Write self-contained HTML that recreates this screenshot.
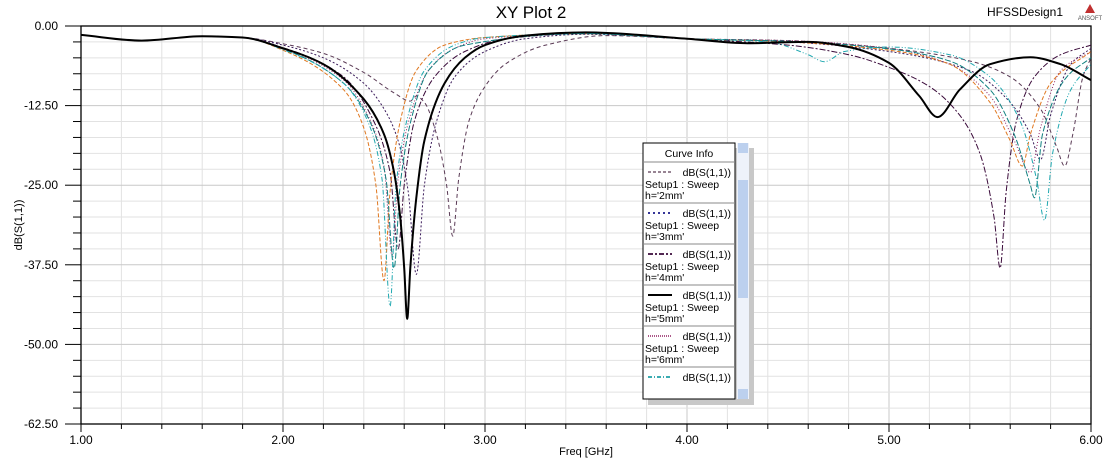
<!DOCTYPE html>
<html><head><meta charset="utf-8"><style>
body{margin:0;background:#fff;width:1113px;height:459px;overflow:hidden;font-family:"Liberation Sans",sans-serif}
svg{display:block}
</style></head><body>
<svg id="chart" width="1113" height="459" xmlns="http://www.w3.org/2000/svg" font-family="Liberation Sans, sans-serif">
<text x="531" y="18" font-size="17" text-anchor="middle">XY Plot 2</text>
<text x="1025" y="16" font-size="12" text-anchor="middle">HFSSDesign1</text>
<g><polygon points="1090,4 1085,13 1095,13" fill="#c03030"/><text x="1090" y="20" font-size="6" text-anchor="middle" fill="#555">ANSOFT</text></g>
<g id="grid"></g><g id="axes"></g><g id="series"></g>
<text x="586" y="455" font-size="11" text-anchor="middle">Freq [GHz]</text>
<text transform="translate(22,225) rotate(-90)" font-size="11" text-anchor="middle">dB(S(1,1))</text>
<g id="legend"></g>
</svg>
<script>
const xTicks=[1,2,3,4,5,6];
const xTickLabels=["1.00","2.00","3.00","4.00","5.00","6.00"];
const yTicks=[0,-12.5,-25,-37.5,-50,-62.5];
const yTickLabels=["0.00","-12.50","-25.00","-37.50","-50.00","-62.50"];
const lowF=[1.0,1.3,1.6,1.8];
const lowD=[-1.4,-2.3,-1.6,-1.8];
const f2=[2.0,2.2,2.4,2.55,2.63,2.66,2.7,2.76,2.81,2.84,2.87,2.92,3.0,3.1,3.3,3.6,4.0,4.5,5.0,5.4,5.6,5.75,5.83,5.87,5.91,5.96,6.0];
const d2=[-2.8,-4.3,-7.3,-10.5,-11.8,-11,-12,-17,-25,-33,-24,-15,-9.5,-6,-3,-1.5,-2,-2.3,-3.5,-5.5,-8,-13,-19,-22,-17,-8,-5];
const f3=[2.0,2.2,2.4,2.5,2.57,2.62,2.66,2.7,2.76,2.85,3.0,3.2,3.5,4.0,4.5,5.0,5.4,5.6,5.7,5.75,5.8,5.9,6.0];
const d3=[-3,-5,-9,-13,-18,-26,-39,-25,-15,-8,-4,-2,-1.3,-2,-2.5,-4,-7,-12,-17,-21,-14,-6,-3.5];
const f4=[2.0,2.3,2.45,2.53,2.57,2.6,2.65,2.75,2.9,3.1,3.5,4.0,4.5,4.8,5.0,5.2,5.35,5.45,5.52,5.55,5.58,5.63,5.72,5.85,6.0];
const d4=[-3.4,-8,-15,-23,-35,-25,-15,-8,-4,-2,-1.2,-2,-3,-4.5,-6.5,-9.5,-14,-20,-30,-38,-26,-15,-8,-4.5,-3];
const f5=[2.0,2.2,2.4,2.5,2.55,2.58,2.6,2.615,2.63,2.66,2.7,2.8,2.9,3.0,3.2,3.5,4.0,4.3,4.6,4.8,5.0,5.15,5.24,5.35,5.5,5.7,5.85,6.0];
const d5=[-3.5,-6,-11.5,-17,-23,-30,-38,-46,-38,-27,-18,-9,-5,-3,-1.5,-1,-2,-2.7,-2.5,-3.3,-5.8,-11,-14.3,-10,-6,-4.9,-6,-8.5];
const f6=[2.0,2.3,2.42,2.5,2.54,2.57,2.63,2.72,2.85,3.0,3.5,4.0,4.5,5.0,5.3,5.5,5.62,5.7,5.75,5.85,6.0];
const d6=[-3.5,-8.5,-14,-22,-36,-24,-14,-7,-3.5,-2,-1.2,-2,-2.3,-3.5,-6,-11,-18,-23,-16,-7,-4];
const f7=[2.0,2.3,2.42,2.49,2.53,2.56,2.62,2.7,2.85,3.0,3.5,4.0,4.4,4.6,4.68,4.78,5.0,5.3,5.5,5.65,5.73,5.77,5.81,5.9,6.0];
const d7=[-3.7,-9,-15,-24,-44,-25,-14,-7,-3,-1.8,-1.2,-2,-2.5,-4.5,-5.6,-4,-3.3,-4.5,-8,-15,-24,-30.5,-20,-10,-6];
const fO=[2.0,2.3,2.4,2.46,2.5,2.53,2.58,2.66,2.8,3.0,3.5,4.0,4.5,5.0,5.3,5.5,5.6,5.66,5.7,5.8,6.0];
const dO=[-3.8,-10,-16,-25,-40,-26,-15,-7,-3,-1.8,-1.2,-2,-2.5,-3.8,-6,-12,-18,-22,-17,-9,-4];
const fT=[2.0,2.3,2.43,2.51,2.55,2.58,2.64,2.72,2.9,3.5,4.0,4.5,5.0,5.3,5.5,5.62,5.7,5.72,5.76,5.88,6.0];
const dT=[-3.6,-9,-15,-24,-38,-25,-14,-7,-3,-1.2,-2,-2.4,-3.6,-5.5,-10,-17,-25,-27,-17,-8,-5];

const L=81,R=1091,T=26,B=424;
const X=f=>L+(f-1)/5*(R-L);
const Y=d=>T+(-d)/62.5*(B-T);
const NS="http://www.w3.org/2000/svg";
function mk(tag,attrs,parent){const e=document.createElementNS(NS,tag);for(const k in attrs)e.setAttribute(k,attrs[k]);parent.appendChild(e);return e;}
// monotone cubic (Fritsch-Carlson) path through data points, in pixel space
function monoPath(xs,ys){const n=xs.length;const dx=[],m=[],t=new Array(n);
 for(let i=0;i<n-1;i++){dx[i]=xs[i+1]-xs[i];m[i]=(ys[i+1]-ys[i])/dx[i];}
 t[0]=m[0];t[n-1]=m[n-2];
 for(let i=1;i<n-1;i++){if(m[i-1]*m[i]<=0)t[i]=0;else{const w1=2*dx[i]+dx[i-1],w2=dx[i]+2*dx[i-1];t[i]=(w1+w2)/(w1/m[i-1]+w2/m[i]);}}
 let d='M'+xs[0].toFixed(1)+','+ys[0].toFixed(1);
 for(let i=0;i<n-1;i++){const h=dx[i]/3;
  d+=' C'+(xs[i]+h).toFixed(1)+','+(ys[i]+t[i]*h).toFixed(1)+' '+(xs[i+1]-h).toFixed(1)+','+(ys[i+1]-t[i+1]*h).toFixed(1)+' '+xs[i+1].toFixed(1)+','+ys[i+1].toFixed(1);}
 return d;}
const grid=document.getElementById('grid'),axes=document.getElementById('axes'),ser=document.getElementById('series');
for(let i=0;i<=25;i++){const f=1+i*0.2;const l=mk('line',{x1:X(f),x2:X(f),y1:T,y2:B,stroke:i%5==0?'#c8c8c8':'#e2e2e2','stroke-width':1},grid);

}
for(let i=0;i<=25;i++){const d=-i*2.5;const l=mk('line',{x1:L,x2:R,y1:Y(d),y2:Y(d),stroke:i%5==0?'#c8c8c8':'#e2e2e2','stroke-width':1},grid);

}
const frame=mk('rect',{x:L,y:T,width:R-L,height:B-T,fill:'none',stroke:'#000','stroke-width':1.3},axes);


for(let i=0;i<=25;i++){const d=-i*2.5;const t=mk('line',{x1:i%5==0?L-16:L-8,x2:L,y1:Y(d),y2:Y(d),stroke:'#000'},axes);

}
for(let i=0;i<=25;i++){const f=1+i*0.2;const t=mk('line',{x1:X(f),x2:X(f),y1:B,y2:B+(i%5==0?8:5),stroke:'#000'},axes);

}
xTicks.forEach((f,i)=>{const t=mk('text',{x:X(f),y:B+20,'font-size':12,'text-anchor':'middle'},axes);t.textContent=xTickLabels[i];

});
yTicks.forEach((d,i)=>{const t=mk('text',{x:L-23,y:Y(d)+4,'font-size':12,'text-anchor':'end'},axes);t.textContent=yTickLabels[i];

});
const seriesDefs=[
 ['series-h2mm',f2,d2,'#5a3a55',1,'4,3'],
 ['series-h3mm',f3,d3,'#3a1a5a',1,'2,2'],
 ['series-h4mm',f4,d4,'#3a0a3a',1,'6,2,2,2'],
 ['series-h6mm',f6,d6,'#902060',1,'1,2'],
 ['series-orange',fO,dO,'#e07820',1,'4,2'],
 ['series-teal',fT,dT,'#108080',1,'6,2'],
 ['series-h7mm',f7,d7,'#20a8b0',1,'5,2,1,2,1,2'],
 ['series-h5mm',f5,d5,'#000',2,'none']];
seriesDefs.forEach(s=>{const fs=lowF.concat(s[1]),ds=lowD.concat(s[2]);
 const p=mk('path',{d:monoPath(fs.map(X),ds.map(Y)),fill:'none',stroke:s[3],'stroke-width':s[4],'stroke-dasharray':s[5],'stroke-linejoin':'round'},ser);
 
 });
// legend
const lg=document.getElementById('legend');
mk('rect',{x:648,y:148,width:106,height:257,fill:'#c8c8c8'},lg);
mk('rect',{x:643,y:143,width:92,height:256,fill:'#fff',stroke:'#000'},lg);
mk('rect',{x:737,y:143,width:12,height:256,fill:'#eef2fa'},lg);
mk('rect',{x:738,y:143,width:10,height:10,fill:'#bcd0ee'},lg);
mk('rect',{x:738,y:180,width:10,height:118,fill:'#bcd0ee'},lg);
mk('rect',{x:738,y:389,width:10,height:10,fill:'#bcd0ee'},lg);
const lt=mk('text',{x:689,y:157,'font-size':10.5,'text-anchor':'middle'},lg);lt.textContent='Curve Info';
const legItems=[['h=\'2mm\'','#5a3a55','3,2',1.2],['h=\'3mm\'','#1a1a8a','2,3',1.8],['h=\'4mm\'','#3a0a3a','5,2,2,2',1.8],['h=\'5mm\'','#000','none',2],['h=\'6mm\'','#902060','1,1',1.5],['','#20a0a8','4,2,1,2',1.8]];
legItems.forEach((it,i)=>{const y0=162+i*41;
 mk('line',{x1:643,x2:735,y1:y0,y2:y0,stroke:'#888'},lg);
 const g=mk('g',{},lg);
 
 
 mk('line',{x1:648,x2:672,y1:y0+10,y2:y0+10,stroke:it[1],'stroke-width':it[3],'stroke-dasharray':it[2]},g);
 const t1=mk('text',{x:731,y:y0+14,'font-size':10.5,'text-anchor':'end'},g);t1.textContent='dB(S(1,1))';
 if(it[0]){const t2=mk('text',{x:645,y:y0+26,'font-size':10.5},g);t2.textContent='Setup1 : Sweep';
 const t3=mk('text',{x:645,y:y0+37,'font-size':10.5},g);t3.textContent=it[0];}
});
</script>
</body></html>
